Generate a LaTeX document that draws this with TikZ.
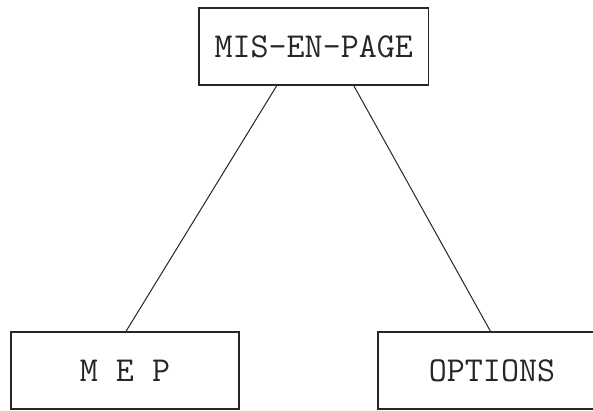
\documentclass[tikz,border=0pt]{standalone}
\usetikzlibrary{calc}
\tikzset{
  box/.style={draw=black!85, line width=1.3pt, minimum width=228pt, minimum height=77pt,
    inner sep=0pt, font=\ttfamily\fontsize{35}{35}\selectfont, text=black!85},
  link/.style={draw=black!85, line width=1pt}
}
\begin{document}
\begin{tikzpicture}[x=1pt,y=1pt]
  \useasboundingbox (0,0) rectangle (593,411);
  \clip (0,0) rectangle (593,411);
  \fill[white] (0,0) rectangle (593,411);
  % hierarchy: one root and two children
  \node[box, minimum width=229.5pt] (root) at (313.75,364.5) {MIS-EN-PAGE};
  \node[box] (mep) at (125,40.5) {M E P};
  \node[box] (opt) at (492,40.5) {OPTIONS};
  \draw[link] ($(root.south)+(-37,0)$) -- ($(mep.north)+(1,0)$);
  \draw[link] ($(root.south)+(40,0)$) -- ($(opt.north)+(-1.5,0)$);
\end{tikzpicture}
\end{document}
